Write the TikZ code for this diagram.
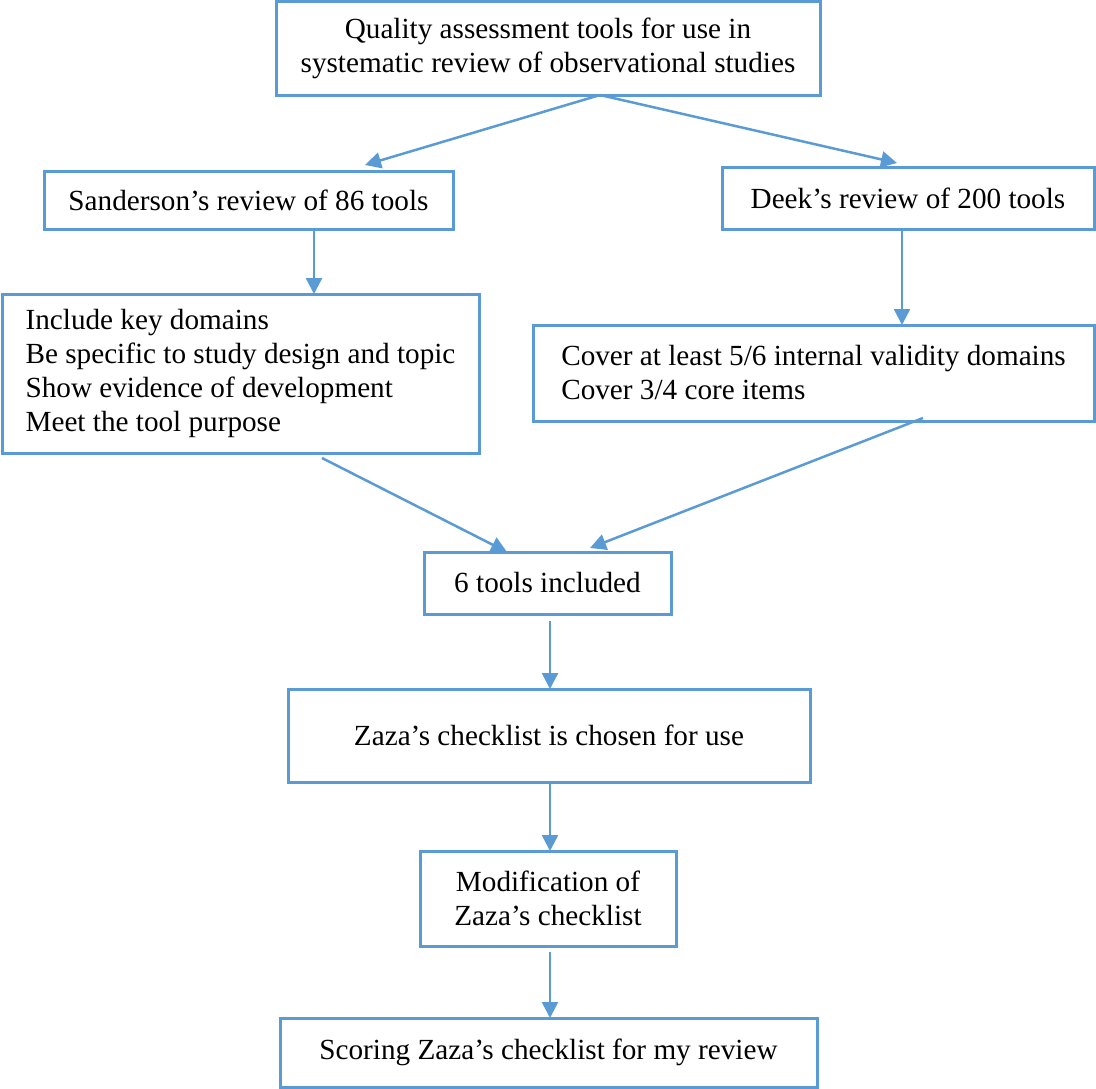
\documentclass[tikz,border=0pt]{standalone}
\usepackage{fontspec}
\setmainfont{Liberation Serif}
\usetikzlibrary{arrows.meta}
\definecolor{boxblue}{RGB}{91,155,213}
\begin{document}
\begin{tikzpicture}[x=1pt,y=-1pt,
  every node/.style={font=\fontsize{29.2}{34}\selectfont, text=black},
  fbox/.style={draw=boxblue, line width=3pt, rectangle, inner sep=0pt, outer sep=0pt, align=center},
  conn/.style={draw=boxblue, line width=2.5pt, -{Triangle[length=16pt,width=16pt]}}
]
\useasboundingbox (0,0) rectangle (1096,1088);

\node[fbox, minimum width=544pt, minimum height=94pt] (top) at (548,48)
  {Quality assessment tools for use in\\systematic review of observational studies};
\node[fbox, minimum width=409pt, minimum height=58pt] (sand) at (248.5,200)
  {Sanderson’s review of 86 tools};
\node[fbox, minimum width=372pt, minimum height=62pt] (deek) at (908,198)
  {Deek’s review of 200 tools};
\node[fbox, minimum width=477pt, minimum height=159pt, align=left] (llist) at (240.5,373.5)
  {Include key domains\\Be specific to study design and topic\\Show evidence of development\\Meet the tool purpose};
\node[fbox, minimum width=561pt, minimum height=96pt, align=left] (rlist) at (813.5,373)
  {Cover at least 5/6 internal validity domains\\Cover 3/4 core items};
\node[fbox, minimum width=247pt, minimum height=62pt] (six) at (547.5,583)
  {6 tools included};
\node[fbox, minimum width=522pt, minimum height=93pt] (zaza) at (549,735.5)
  {Zaza’s checklist is chosen for use};
\node[fbox, minimum width=256pt, minimum height=95pt] (mod) at (548,898.5)
  {Modification of\\Zaza’s checklist};
\node[fbox, minimum width=537pt, minimum height=69pt] (score) at (548.5,1052.5)
  {Scoring Zaza’s checklist for my review};

\draw[conn] ([xshift=52pt]top.south) -- ([xshift=116.5pt,yshift=6pt]sand.north);
\draw[conn] ([xshift=52pt]top.south) -- ([xshift=-11pt,yshift=4pt]deek.north);
\draw[conn] ([xshift=65.5pt]sand.south) -- ([xshift=73.5pt]llist.north);
\draw[conn] ([xshift=-6pt]deek.south) -- ([xshift=88.5pt]rlist.north);
\draw[conn] ([xshift=81.5pt,yshift=-5pt]llist.south) -- ([xshift=-40.5pt]six.north);
\draw[conn] ([xshift=109.5pt,yshift=3pt]rlist.south) -- ([xshift=42.5pt,yshift=4pt]six.north);
\draw[conn] ([xshift=2.5pt,yshift=-7pt]six.south) -- ([xshift=1pt]zaza.north);
\draw[conn] ([xshift=1pt]zaza.south) -- ([xshift=2pt]mod.north);
\draw[conn] ([xshift=2pt,yshift=-6pt]mod.south) -- ([xshift=1.5pt]score.north);
\end{tikzpicture}
\end{document}
